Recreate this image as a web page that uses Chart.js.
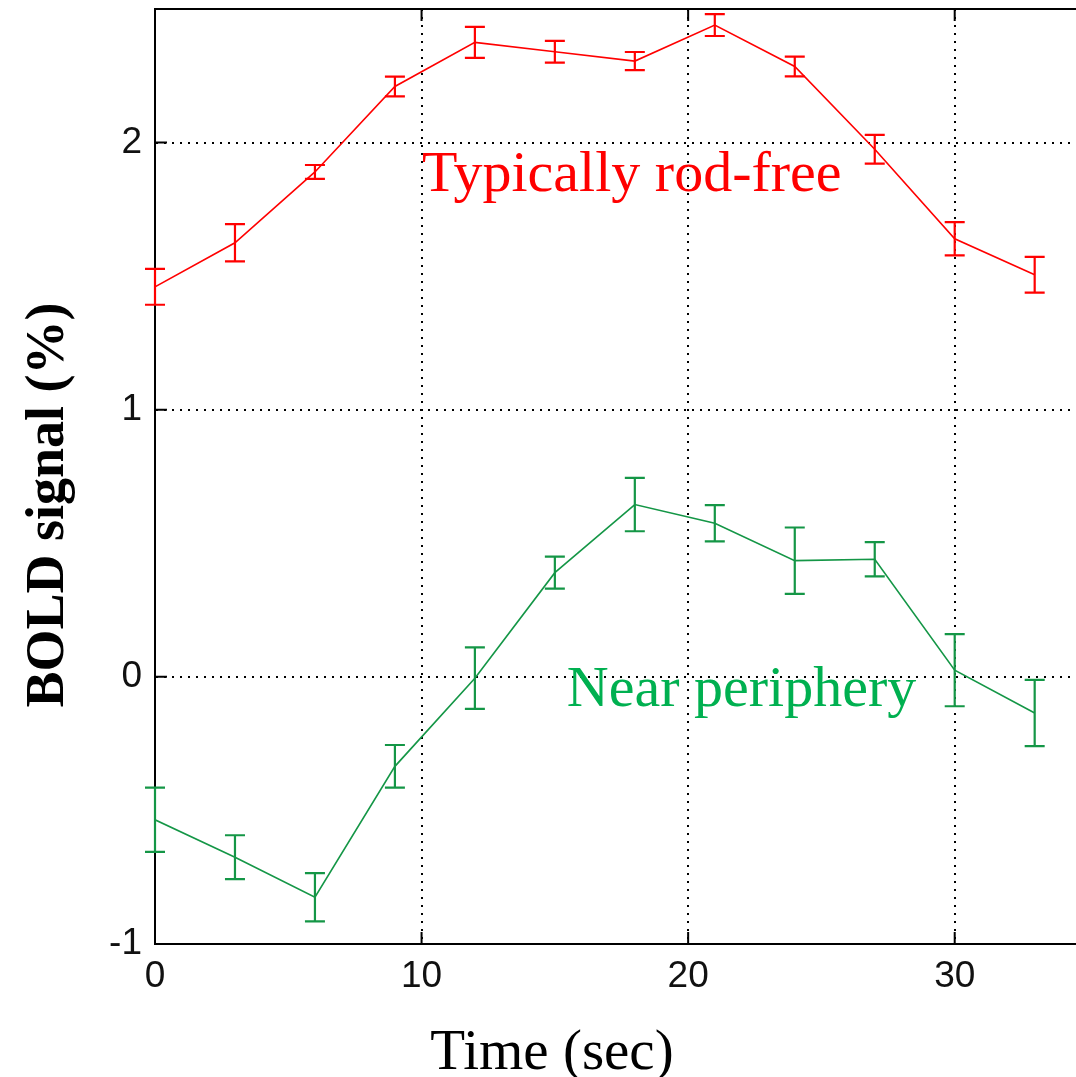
<!DOCTYPE html>
<html>
<head>
<meta charset="utf-8">
<script src="https://cdn.jsdelivr.net/npm/chart.js@4/dist/chart.umd.min.js"></script>
<style>
  html, body { margin: 0; padding: 0; background: #fff; }
  canvas { display: block; }
</style>
</head>
<body>
<canvas id="myChart" width="1076" height="1077"></canvas>
<script>
// time points (sec)
const times = [0, 3, 6, 9, 12, 15, 18, 21, 24, 27, 30, 33]

// typically rod-free region
const rodFree = [1.46, 1.625, 1.89, 2.21, 2.375, 2.34, 2.305, 2.44, 2.285, 1.975, 1.64, 1.505]
const rodFreeErr = [0.067, 0.07, 0.026, 0.037, 0.058, 0.041, 0.034, 0.041, 0.037, 0.054, 0.062, 0.067]

// near periphery
const nearPeriph = [-0.535, -0.675, -0.825, -0.335, -0.005, 0.39, 0.645, 0.575, 0.435, 0.44, 0.025, -0.135]
const nearPeriphErr = [0.12, 0.082, 0.09, 0.08, 0.115, 0.06, 0.1, 0.068, 0.124, 0.064, 0.135, 0.124]

const xTicks = [0, 10, 20, 30]
const yTicks = [-1, 0, 1, 2]

const serif = '"Liberation Serif", "Times New Roman", serif'
const sans = '"Liberation Sans", Arial, sans-serif'

const red = 'rgb(255, 0, 0)'
const green = 'rgb(20, 150, 70)'
const greenText = 'rgb(0, 176, 80)'

const toPoints = (xs, ys) => xs.map((x, i) => ({ x: x, y: ys[i] }))

// error bars drawn through the chart's own scales
const errorBars = {
    id: 'errorBars',
    afterDatasetsDraw(chart) {
        const ctx = chart.ctx
        const xs = chart.scales.x
        const ys = chart.scales.y
        chart.data.datasets.forEach(ds => {
            ctx.save()
            ctx.strokeStyle = ds.borderColor
            ctx.lineWidth = 2.2
            ds.data.forEach((p, i) => {
                const e = ds.errors[i]
                const px = xs.getPixelForValue(p.x)
                const top = ys.getPixelForValue(p.y + e)
                const bot = ys.getPixelForValue(p.y - e)
                ctx.beginPath()
                ctx.moveTo(px, top)
                ctx.lineTo(px, bot)
                ctx.moveTo(px - 10, top)
                ctx.lineTo(px + 10, top)
                ctx.moveTo(px - 10, bot)
                ctx.lineTo(px + 10, bot)
                ctx.stroke()
            })
            ctx.restore()
        })
    }
}

// box top line, inward tick marks, labels and axis titles
const decorations = {
    id: 'decorations',
    afterDraw(chart) {
        const ctx = chart.ctx
        const a = chart.chartArea
        const xs = chart.scales.x
        const ys = chart.scales.y
        ctx.save()
        ctx.strokeStyle = '#000'
        ctx.lineWidth = 2
        ctx.beginPath()
        ctx.moveTo(a.left, a.top)
        ctx.lineTo(a.right, a.top)
        xTicks.forEach(t => {
            const px = xs.getPixelForValue(t)
            ctx.moveTo(px, a.bottom)
            ctx.lineTo(px, a.bottom - 12)
            ctx.moveTo(px, a.top)
            ctx.lineTo(px, a.top + 12)
        })
        yTicks.forEach(t => {
            const py = ys.getPixelForValue(t)
            ctx.moveTo(a.left, py)
            ctx.lineTo(a.left + 12, py)
        })
        ctx.stroke()

        // series labels
        ctx.font = '58px ' + serif
        ctx.textAlign = 'left'
        ctx.textBaseline = 'alphabetic'
        ctx.fillStyle = red
        ctx.fillText('Typically rod-free', xs.getPixelForValue(10.02), ys.getPixelForValue(1.82))
        ctx.fillStyle = greenText
        ctx.fillText('Near periphery', xs.getPixelForValue(15.45), ys.getPixelForValue(-0.11))

        // axis titles
        ctx.fillStyle = '#000'
        ctx.textAlign = 'center'
        ctx.font = '57px ' + serif
        ctx.fillText('Time (sec)', 552, 1069)
        ctx.translate(63, 505)
        ctx.rotate(-Math.PI / 2)
        ctx.font = 'bold 54px ' + serif
        ctx.fillText('BOLD signal (%)', 0, 0)
        ctx.restore()
    }
}

const ctx = document.querySelector('#myChart').getContext('2d')

const myChart = new Chart(ctx, {
    type: 'line',
    data: {
        datasets: [
            {
                label: 'Typically rod-free',
                data: toPoints(times, rodFree),
                errors: rodFreeErr,
                borderColor: red,
                borderWidth: 1.6,
                pointRadius: 0,
                tension: 0
            },
            {
                label: 'Near periphery',
                data: toPoints(times, nearPeriph),
                errors: nearPeriphErr,
                borderColor: green,
                borderWidth: 1.6,
                pointRadius: 0,
                tension: 0
            }
        ]
    },
    options: {
        responsive: false,
        animation: false,
        devicePixelRatio: 1,
        layout: { padding: { top: 9, right: 0, left: 0, bottom: 0 } },
        plugins: {
            legend: { display: false },
            tooltip: { enabled: false }
        },
        scales: {
            x: {
                type: 'linear',
                min: 0,
                max: 34.55,
                afterFit: scale => {
                    scale.height = 133
                    scale.paddingLeft = 0
                    scale.paddingRight = 0
                },
                afterBuildTicks: scale => { scale.ticks = xTicks.map(v => ({ value: v })) },
                ticks: {
                    font: { family: sans, size: 37 },
                    color: '#111',
                    padding: 11,
                    maxRotation: 0
                },
                grid: { color: '#000', lineWidth: 2, drawTicks: false },
                border: { color: '#000', width: 2, dash: [2, 6] }
            },
            y: {
                min: -1,
                max: 2.5,
                afterFit: scale => {
                    scale.width = 155
                    scale.paddingTop = 0
                    scale.paddingBottom = 0
                },
                afterBuildTicks: scale => { scale.ticks = yTicks.map(v => ({ value: v })) },
                ticks: {
                    font: { family: sans, size: 37 },
                    color: '#111',
                    padding: 13
                },
                grid: { color: '#000', lineWidth: 2, drawTicks: false },
                border: { color: '#000', width: 2, dash: [2, 6] }
            }
        }
    },
    plugins: [errorBars, decorations]
})
</script>
</body>
</html>
